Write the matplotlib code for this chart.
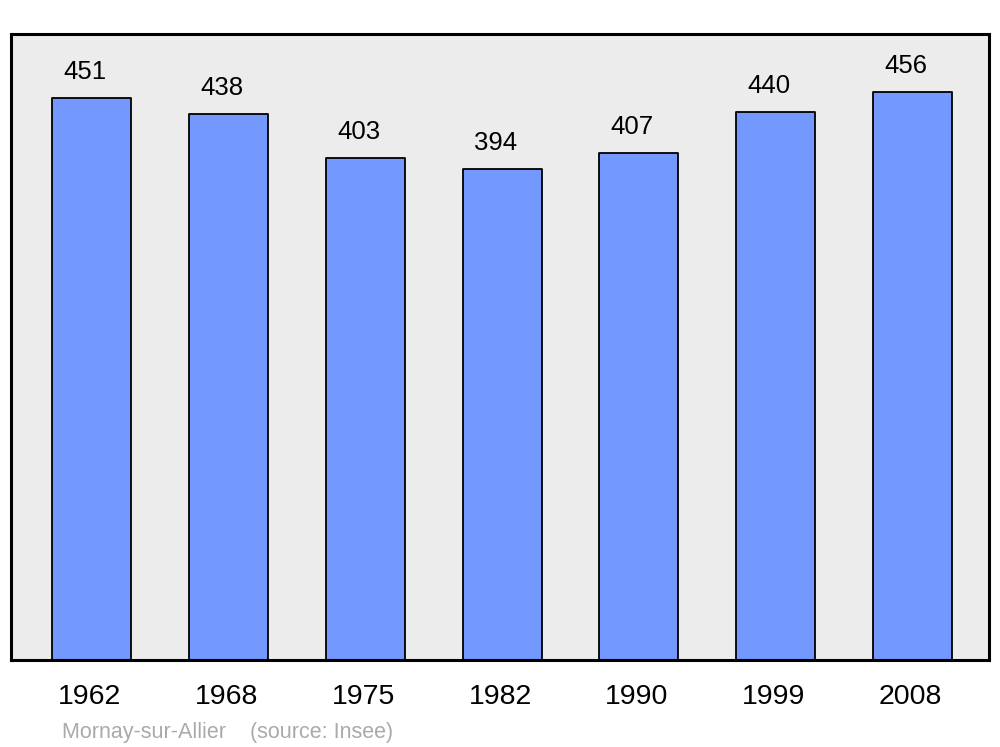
import numpy as np
import matplotlib.pyplot as plt

# données
annees = ['1962', '1968', '1975', '1982', '1990', '1999', '2008']
population = [451, 438, 403, 394, 407, 440, 456]
commune = 'Mornay-sur-Allier'
source = '(source: Insee)'

plt.rcParams['font.family'] = ['Liberation Sans', 'DejaVu Sans']

fig = plt.figure(figsize=(10, 7.47), dpi=100)
ax = fig.add_axes([0.011, 0.1165, 0.978, 0.838])
ax.set_facecolor('#ececec')

x = np.arange(len(annees))
ax.bar(x, population, width=0.578, color='#7399ff', edgecolor='black',
       linewidth=1.3, joinstyle='round', zorder=2)

for xi, v in zip(x, population):
	ax.annotate(str(v), (xi, v), xytext=(-7, 26), textcoords='offset pixels',
	            ha='center', va='center', fontsize=18.5)

ax.set_xlim(-0.592, 6.56)
ax.set_ylim(0, 502.4)
ax.set_yticks([])
ax.set_xticks(x - 0.015)
ax.set_xticklabels(annees, fontsize=20.5)
ax.tick_params(axis='x', length=0, pad=17)
for s in ax.spines.values():
	s.set_linewidth(2.2)
	s.set_joinstyle('round')

fig.text(0.062, 0.0125, commune + '    ' + source, color='#aaaaaa',
         fontsize=15.5, ha='left', va='baseline')

fig.savefig('out.png', dpi=100)
